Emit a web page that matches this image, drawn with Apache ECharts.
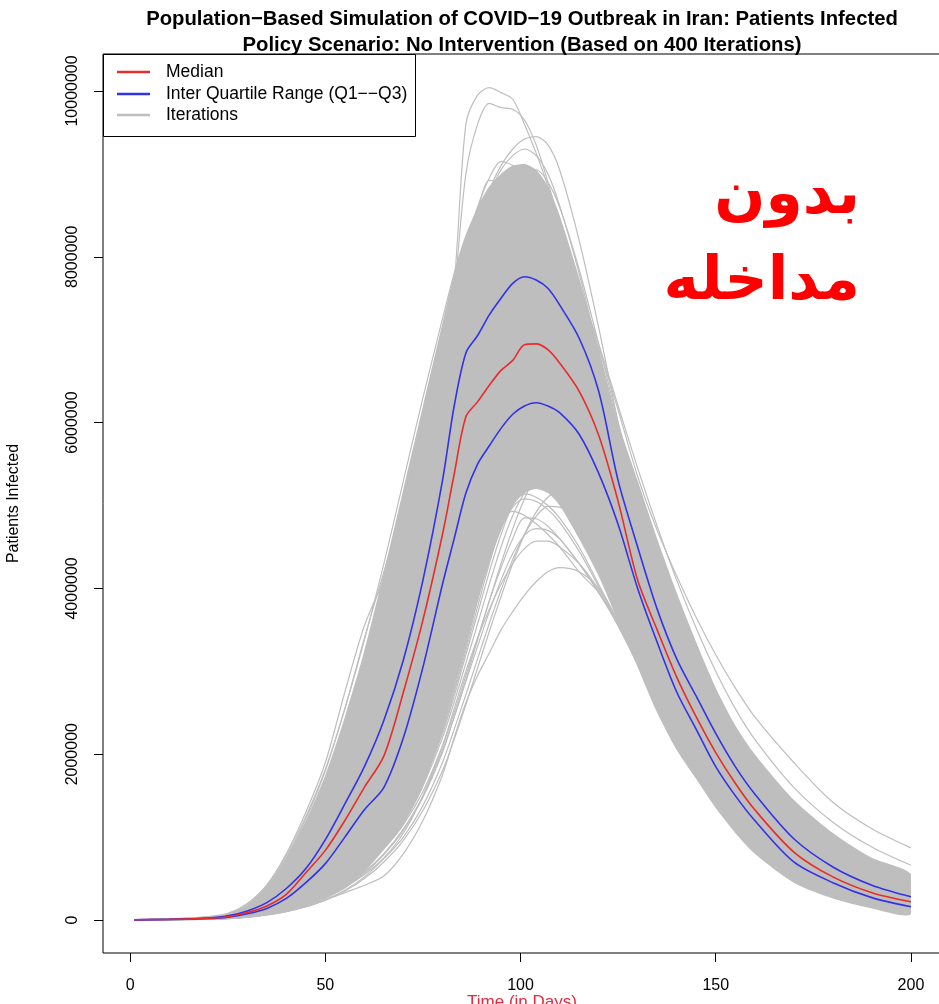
<!DOCTYPE html>
<html><head><meta charset="utf-8">
<script src="https://cdn.jsdelivr.net/npm/echarts@6/dist/echarts.min.js"></script>
<style>html,body{margin:0;padding:0;background:#fff}#c{width:939px;height:1004px}</style>
</head><body><div id="c"></div>
<script>
// ---- data (values in millions of patients) ----
const days = [1,10,20,25,30,35,40,45,50,55,60,65,70,75,80,83,86,89,92,95,98,101,104,107,110,115,120,125,130,135,140,145,150,155,160,170,180,190,200];
const xTicks = [0,50,100,150,200];
const yTicks = [0,2000000,4000000,6000000,8000000,10000000];

const median = [0.003,0.008,0.02,0.04,0.09,0.17,0.31,0.57,0.84,1.2,1.6,1.98,2.75,3.62,4.65,5.38,6.07,6.25,6.45,6.63,6.75,6.94,6.95,6.88,6.72,6.38,5.85,5.05,4.1,3.5,2.93,2.45,2.02,1.65,1.33,0.82,0.52,0.33,0.22];
const q3 = [0.003,0.009,0.025,0.05,0.11,0.21,0.38,0.62,0.97,1.4,1.85,2.41,3.14,4.1,5.3,6.2,6.84,7.05,7.3,7.5,7.68,7.76,7.72,7.62,7.42,7.02,6.38,5.3,4.5,3.75,3.15,2.7,2.25,1.85,1.52,0.98,0.64,0.42,0.28];
const q1 = [0.002,0.007,0.018,0.035,0.075,0.14,0.26,0.45,0.68,1.0,1.33,1.6,2.2,3.05,4.05,4.6,5.15,5.5,5.72,5.93,6.1,6.2,6.24,6.2,6.12,5.86,5.39,4.77,4.0,3.35,2.75,2.3,1.85,1.5,1.2,0.7,0.45,0.27,0.16];

// dense bundle of iterations (upper / lower edge)
const bandUpper = [0.005,0.012,0.035,0.07,0.17,0.4,0.75,1.2,1.75,2.45,3.25,4.2,5.2,6.2,7.2,7.8,8.25,8.6,8.85,9.0,9.1,9.12,9.05,8.85,8.5,7.75,6.9,6.0,5.3,4.6,3.95,3.35,2.8,2.35,2.0,1.45,1.05,0.75,0.55];
const bandLower = [0,0.002,0.008,0.015,0.03,0.06,0.11,0.18,0.26,0.38,0.58,0.85,1.15,1.6,2.3,2.8,3.3,3.85,4.3,4.7,5.0,5.15,5.2,5.15,5.0,4.6,4.15,3.6,3.05,2.5,2.05,1.7,1.35,1.05,0.8,0.45,0.26,0.14,0.07];

// individual iterations visible outside the dense bundle
const iterA = [0.004,0.012,0.04,0.08,0.2,0.42,0.8,1.3,1.9,2.75,3.55,4.1,4.6,5.6,6.9,7.7,9.6,9.95,10.04,9.98,9.9,9.6,9.25,8.85,8.35,7.4,6.4,5.45,4.6,3.85,3.2,2.65,2.2,1.82,1.5,1.0,0.68,0.46,0.32];
const iterB = [0.004,0.011,0.036,0.072,0.18,0.4,0.75,1.22,1.8,2.55,3.4,4.2,5.0,5.8,6.8,7.6,9.0,9.6,9.85,9.8,9.78,9.65,9.35,8.9,8.4,7.5,6.5,5.55,4.7,3.95,3.3,2.75,2.28,1.9,1.57,1.05,0.7,0.48,0.33];
const iterC = [0.002,0.006,0.02,0.04,0.1,0.25,0.5,0.9,1.4,2.0,2.8,3.7,4.7,5.7,6.7,7.3,7.9,8.4,8.8,9.1,9.3,9.42,9.45,9.35,9.05,8.2,7.15,6.0,5.0,4.25,3.6,3.05,2.6,2.2,1.85,1.3,0.95,0.7,0.55];
const iterD = [0.001,0.004,0.012,0.025,0.06,0.15,0.3,0.55,0.9,1.35,1.95,2.65,3.4,4.25,5.1,5.6,6.1,6.55,6.95,7.3,7.6,7.8,7.9,7.92,7.85,7.5,6.9,6.15,5.35,4.7,4.15,3.65,3.2,2.8,2.45,1.9,1.42,1.1,0.87];
const iterE1 = [0.005,0.013,0.038,0.075,0.18,0.42,0.78,1.25,1.82,2.55,3.38,4.3,5.3,6.3,7.25,7.8,8.25,8.55,8.7,8.62,8.42,8.12,7.75,7.32,6.85,6.0,5.15,4.4,3.75,3.18,2.7,2.28,1.92,1.62,1.36,0.95,0.67,0.47,0.33];
const iterE2 = [0.002,0.006,0.018,0.035,0.08,0.18,0.35,0.6,0.95,1.4,1.98,2.7,3.55,4.45,5.35,5.9,6.42,6.9,7.3,7.65,7.92,8.12,8.2,8.18,8.05,7.6,6.95,6.2,5.45,4.75,4.1,3.52,3.0,2.55,2.18,1.6,1.18,0.88,0.66];
const iterT1 = [0.004,0.01,0.03,0.06,0.14,0.33,0.62,1.0,1.5,2.1,2.85,3.75,4.7,5.7,6.7,7.3,7.85,8.35,8.75,9.05,9.22,9.3,9.22,9.0,8.62,7.8,6.85,5.9,5.05,4.3,3.65,3.08,2.6,2.18,1.83,1.28,0.9,0.63,0.45];
const iterT2 = [0.004,0.011,0.032,0.065,0.155,0.36,0.68,1.08,1.6,2.25,3.05,3.95,4.95,5.95,6.95,7.55,8.1,8.6,8.95,9.15,9.1,8.95,8.7,8.38,7.98,7.15,6.25,5.38,4.6,3.92,3.33,2.82,2.38,2.0,1.68,1.18,0.83,0.58,0.41];
const iterT3 = [0.003,0.009,0.027,0.055,0.13,0.3,0.57,0.93,1.4,1.98,2.7,3.55,4.5,5.5,6.5,7.1,7.65,8.1,8.5,8.8,8.98,9.05,9.05,8.9,8.6,7.85,6.95,6.0,5.15,4.4,3.75,3.18,2.68,2.25,1.9,1.33,0.94,0.66,0.47];
const iterT4 = [0.004,0.011,0.033,0.068,0.16,0.38,0.7,1.12,1.65,2.3,3.1,4.0,4.98,5.95,6.9,7.5,8.05,8.55,8.92,8.9,8.75,8.5,8.15,7.75,7.3,6.45,5.6,4.8,4.1,3.48,2.95,2.5,2.1,1.77,1.48,1.04,0.73,0.51,0.36];
const iterL1 = [0.001,0.003,0.008,0.015,0.03,0.06,0.1,0.16,0.24,0.33,0.42,0.53,0.8,1.2,1.75,2.2,2.62,2.95,3.22,3.5,3.72,3.92,4.08,4.2,4.25,4.2,4.0,3.6,3.1,2.6,2.15,1.75,1.42,1.15,0.92,0.58,0.36,0.22,0.13];
const iterL2 = [0.001,0.003,0.009,0.017,0.035,0.065,0.11,0.18,0.27,0.4,0.55,0.75,1.05,1.5,2.1,2.55,3.0,3.4,3.75,4.05,4.3,4.48,4.57,4.57,4.5,4.3,3.98,3.55,3.08,2.62,2.2,1.8,1.47,1.19,0.96,0.61,0.38,0.23,0.14];
const iterS1 = [0.001,0.004,0.012,0.022,0.045,0.08,0.13,0.2,0.3,0.43,0.62,0.86,1.15,1.55,2.1,2.5,2.95,3.4,3.85,4.25,4.6,4.85,4.84,4.75,4.6,4.3,3.95,3.55,3.1,2.62,2.18,1.8,1.48,1.2,0.97,0.62,0.39,0.24,0.14];
const iterS2 = [0.001,0.003,0.01,0.018,0.036,0.065,0.11,0.17,0.25,0.36,0.52,0.74,1.0,1.38,1.9,2.3,2.72,3.15,3.58,3.98,4.35,4.65,4.87,4.99,4.98,4.8,4.38,3.85,3.3,2.78,2.33,1.93,1.59,1.3,1.06,0.68,0.43,0.27,0.16];
const iterS3 = [0.001,0.004,0.013,0.025,0.05,0.09,0.15,0.23,0.33,0.47,0.66,0.9,1.22,1.65,2.25,2.7,3.2,3.7,4.2,4.65,5.0,5.14,5.1,5.0,4.85,4.5,4.05,3.6,3.12,2.65,2.2,1.82,1.5,1.22,0.99,0.63,0.4,0.25,0.15];
const iterS4 = [0.001,0.004,0.012,0.023,0.047,0.085,0.14,0.21,0.31,0.44,0.63,0.88,1.2,1.62,2.2,2.63,3.1,3.57,4.05,4.5,4.88,5.15,5.29,5.28,5.18,4.85,4.35,3.8,3.25,2.75,2.3,1.9,1.56,1.28,1.04,0.66,0.42,0.26,0.16];
const iterS5 = [0.001,0.004,0.013,0.024,0.049,0.088,0.145,0.22,0.32,0.46,0.65,0.9,1.23,1.67,2.28,2.75,3.25,3.78,4.3,4.78,5.2,5.43,5.42,5.33,5.18,4.8,4.3,3.75,3.2,2.7,2.25,1.86,1.53,1.25,1.01,0.64,0.4,0.25,0.15];
const iterS6 = [0.001,0.003,0.01,0.019,0.038,0.07,0.115,0.18,0.27,0.39,0.56,0.79,1.08,1.48,2.02,2.45,2.9,3.38,3.85,4.3,4.72,5.08,5.36,5.54,5.6,5.4,4.9,4.25,3.6,3.0,2.5,2.08,1.72,1.41,1.15,0.74,0.47,0.29,0.18];
const iterS7 = [0.001,0.003,0.009,0.017,0.034,0.062,0.1,0.16,0.24,0.35,0.5,0.7,0.96,1.32,1.8,2.18,2.6,3.04,3.48,3.9,4.3,4.65,4.92,5.1,5.18,5.15,4.8,4.2,3.55,2.95,2.45,2.02,1.66,1.36,1.11,0.71,0.45,0.28,0.17];
const iterS8 = [0.001,0.004,0.014,0.026,0.052,0.094,0.155,0.24,0.35,0.5,0.7,0.96,1.3,1.75,2.35,2.85,3.4,3.95,4.45,4.85,4.93,4.88,4.78,4.65,4.5,4.2,3.95,3.6,3.12,2.64,2.2,1.8,1.47,1.2,0.97,0.61,0.38,0.23,0.14];
const iterS9 = [0.001,0.003,0.011,0.02,0.04,0.072,0.12,0.19,0.28,0.41,0.58,0.8,1.1,1.5,2.05,2.45,2.88,3.3,3.72,4.1,4.42,4.64,4.72,4.7,4.6,4.3,3.95,3.56,3.1,2.63,2.19,1.81,1.49,1.21,0.98,0.62,0.39,0.24,0.14];
const iterS10 = [0.001,0.004,0.012,0.024,0.048,0.088,0.145,0.22,0.33,0.47,0.66,0.92,1.25,1.7,2.3,2.78,3.3,3.85,4.35,4.72,4.98,5.08,5.05,4.95,4.8,4.45,4.02,3.58,3.12,2.65,2.21,1.83,1.5,1.22,0.99,0.63,0.4,0.25,0.15];

const iterations = [iterA,iterB,iterC,iterD,iterE1,iterE2,iterT1,iterT2,iterT3,iterT4,iterL1,iterL2,iterS1,iterS2,iterS3,iterS4,iterS5,iterS6,iterS7,iterS8,iterS9,iterS10];

const titleLines = ['Population\u2212Based Simulation of COVID\u221219 Outbreak in Iran: Patients Infected',
                    'Policy Scenario: No Intervention (Based on 400 Iterations)'];
const legendNames = ['Median','Inter Quartile Range (Q1\u2212\u2212Q3)','Iterations'];
const persianLines = ['بدون','مداخله'];

// ---- chart ----
const FONT = "'Liberation Sans', Arial, sans-serif";
const GRAY = '#BEBEBE', RED = '#E82C2C', BLUE = '#3232E6';
const toPairs = v => days.map((d, i) => [d, v[i] * 1e6]);
const chart = echarts.init(document.getElementById('c'), null, {renderer: 'canvas'});

const series = [];
series.push({
  type: 'custom', name: 'Iterations', silent: true, z: 1, data: [0],
  renderItem: function (params, api) {
    const pts = [];
    for (let i = 0; i < days.length; i++) pts.push(api.coord([days[i], bandUpper[i] * 1e6]));
    for (let i = days.length - 1; i >= 0; i--) pts.push(api.coord([days[i], bandLower[i] * 1e6]));
    let x0 = Infinity, y0 = Infinity, x1 = -Infinity, y1 = -Infinity;
    pts.forEach(p => { x0 = Math.min(x0, p[0]); y0 = Math.min(y0, p[1]); x1 = Math.max(x1, p[0]); y1 = Math.max(y1, p[1]); });
    return {type: 'polygon', shape: {points: pts, smooth: 0.25, smoothConstraint: [[x0, y0], [x1, y1]]}, style: {fill: GRAY, stroke: null}};
  }
});
iterations.forEach(v => series.push({
  type: 'line', name: 'Iterations', data: toPairs(v), showSymbol: false, smooth: 0.3, silent: true, z: 2,
  lineStyle: {color: GRAY, width: 1.2}
}));
series.push({type: 'line', name: legendNames[1], data: toPairs(q1), showSymbol: false, smooth: 0.3, z: 3, lineStyle: {color: BLUE, width: 1.6}});
series.push({type: 'line', name: legendNames[1], data: toPairs(q3), showSymbol: false, smooth: 0.3, z: 3, lineStyle: {color: BLUE, width: 1.6}});
series.push({type: 'line', name: legendNames[0], data: toPairs(median), showSymbol: false, smooth: 0.3, z: 4, lineStyle: {color: RED, width: 1.6}});

const legendY = [72, 94, 115];
const legendColors = [RED, BLUE, GRAY];
const graphic = [
  {type: 'text', x: 522, y: 19, z: 10, style: {text: titleLines[0], font: 'bold 20.3px ' + FONT, fill: '#000', textAlign: 'center', textVerticalAlign: 'middle'}},
  {type: 'text', x: 522, y: 45, z: 10, style: {text: titleLines[1], font: 'bold 20.3px ' + FONT, fill: '#000', textAlign: 'center', textVerticalAlign: 'middle'}},
  {type: 'rect', z: 20, shape: {x: 103.5, y: 54.5, width: 312, height: 82}, style: {fill: '#fff', stroke: '#000', lineWidth: 1}},
  {type: 'text', x: 522, y: 994, z: 10, style: {text: 'Time (in Days)', font: '17px ' + FONT, fill: '#E8283C', textAlign: 'center', textVerticalAlign: 'top'}},
  {type: 'text', x: 860, y: 197, z: 10, style: {text: persianLines[0], font: 'bold 60px "DejaVu Sans"', fill: '#FF0000', textAlign: 'right', textVerticalAlign: 'middle'}},
  {type: 'text', x: 860, y: 283, z: 10, style: {text: persianLines[1], font: 'bold 60px "DejaVu Sans"', fill: '#FF0000', textAlign: 'right', textVerticalAlign: 'middle'}}
];
legendNames.forEach((n, i) => {
  graphic.push({type: 'line', z: 21, shape: {x1: 117, y1: legendY[i], x2: 150, y2: legendY[i]}, style: {stroke: legendColors[i], lineWidth: 2.5}});
  graphic.push({type: 'text', z: 21, x: 166, y: legendY[i], style: {text: n, font: '17.5px ' + FONT, fill: '#000', textVerticalAlign: 'middle'}});
});

chart.setOption({
  animation: false,
  backgroundColor: '#fff',
  grid: {left: 103, top: 54, width: 839, height: 899, show: true, borderColor: '#000', borderWidth: 1,
         backgroundColor: 'transparent', containLabel: false, outerBoundsMode: 'none'},
  xAxis: {
    type: 'value', min: -6.96, max: 207.96,
    axisLine: {show: false, onZero: false}, splitLine: {show: false},
    axisTick: {show: true, length: 9, customValues: xTicks, lineStyle: {color: '#000'}},
    axisLabel: {customValues: xTicks, margin: 25, color: '#000', fontSize: 16, fontFamily: FONT}
  },
  yAxis: {
    type: 'value', min: -398000, max: 10446000,
    name: 'Patients Infected', nameLocation: 'middle', nameGap: 81, nameRotate: 90,
    nameTextStyle: {color: '#000', fontSize: 16, fontFamily: FONT},
    axisLine: {show: false, onZero: false}, splitLine: {show: false},
    axisTick: {show: true, length: 9, customValues: yTicks, lineStyle: {color: '#000'}},
    axisLabel: {customValues: yTicks, rotate: 90, margin: 22, color: '#000', fontSize: 16, fontFamily: FONT,
                formatter: v => String(Math.round(v))}
  },
  graphic: graphic,
  series: series
});
</script>
</body></html>
